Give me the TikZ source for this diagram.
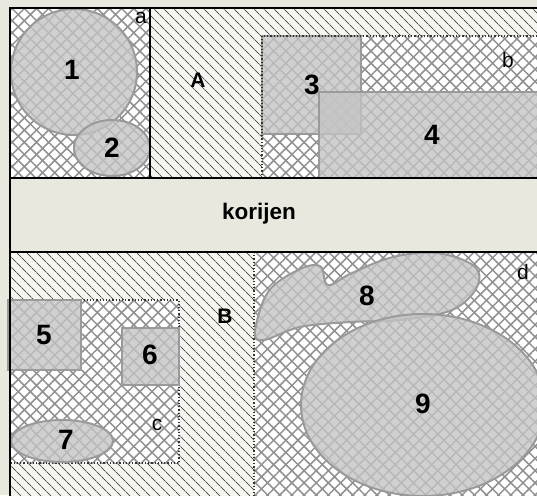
\documentclass[tikz,border=0pt]{standalone}
\usepackage{fontspec}
\setmainfont{Liberation Sans}
\usetikzlibrary{patterns.meta}
\definecolor{paper}{HTML}{E8E8DE}
\definecolor{hatchbg}{HTML}{F6F6F0}
\definecolor{hatchln}{HTML}{505050}
\definecolor{crossln}{HTML}{909090}
\definecolor{objfill}{HTML}{C4C4C4}
\definecolor{objline}{HTML}{9A9A9A}
\tikzset{
    rtree/.cd,
    diag/.style={fill=hatchbg,
      postaction={pattern={Lines[angle=-45,distance=7.4pt,line width=1.1pt]},pattern color=hatchln}},
    cross/.style={fill=white,
      postaction={pattern={Lines[angle=45,distance=8.6pt,line width=1.5pt]},pattern color=crossln},
      postaction={pattern={Lines[angle=-45,distance=8.6pt,line width=1.5pt]},pattern color=crossln}},
    obj/.style={draw=objline,line width=2pt,fill=objfill,fill opacity=0.78},
    frame/.style={draw=black,line width=1.8pt},
    group/.style={draw=black!80,line width=1.2pt,dotted},
    num/.style={font=\fontsize{28}{28}\selectfont\bfseries,inner sep=0pt},
    big/.style={font=\fontsize{21}{21}\selectfont\bfseries,inner sep=0pt},
    small/.style={font=\fontsize{21}{21}\selectfont,inner sep=0pt},
}

\begin{document}
\begin{tikzpicture}[x=1pt,y=-1pt]
      \clip (0,0) rectangle (537,495);
      \fill[paper] (0,0) rectangle (537,495);

      % upper half: a, A, b
      \path[rtree/cross] (10,8) rectangle (150,178);
      \path[rtree/diag] (150,8) rectangle (545,178);
      \path[rtree/cross] (262,36) rectangle (545,178);
      \draw[rtree/obj] (74,72) circle (63);
      \draw[rtree/obj] (112,148) ellipse (38 and 28);
      \draw[rtree/obj] (262,36) rectangle (361,134);
      \draw[rtree/obj] (319,92) rectangle (548,182);
      \draw[rtree/group] (262,178) |- (545,36);

      % root band
      \fill[paper] (10,178) rectangle (545,252);

      % lower half: B, c, d
      \path[rtree/diag] (10,252) rectangle (254,500);
      \path[rtree/cross] (10,300) rectangle (179,463);
      \draw[rtree/group] (10,300) -| (179,463) -- (10,463);
      \draw[rtree/obj] (8,300) rectangle (81,370);
      \draw[rtree/obj] (122,328) rectangle (179,385);
      \draw[rtree/obj] (62,441) ellipse (51 and 21);
      \path[rtree/cross] (254,252) rectangle (545,500);
      \draw[rtree/group] (254,252) -- (254,500);
      \draw[rtree/obj] plot[smooth cycle,tension=0.6] coordinates {
        (255,332) (268,292) (298,270) (320,266) (328,285) (352,273)
        (393,257) (437,253) (474,266) (477,287) (452,310) (400,320)
        (350,322) (300,327) (264,340)};
      \draw[rtree/obj] (423,405) ellipse (122 and 91);

      % frames
      \draw[rtree/frame] (10,500) |- (545,8);
      \draw[rtree/frame] (150,8) -- (150,178);
      \draw[rtree/frame] (10,178) -- (545,178);
      \draw[rtree/frame] (10,252) -- (545,252);

      % labels
      \foreach \t/\x/\y in {1/72/70, 2/112/148, 3/312/85, 4/432/135,
                            5/44/335, 6/150/355, 7/66/440, 8/367/296, 9/423/404} {
        \node[rtree/num] (n\t) at (\x,\y) {\t};
      }
      \foreach \t/\x/\y in {a/141/18, b/508/60, c/157/425, d/523/272} {
        \node[rtree/small] (g\t) at (\x,\y) {\t};
      }
      \node[rtree/big] (gA) at (198,80) {A};
      \node[rtree/big] (gB) at (225,316) {B};
      \node[font=\fontsize{22.5}{22.5}\selectfont\bfseries] (root) at (259,214) {korijen};
    \end{tikzpicture}
\end{document}
